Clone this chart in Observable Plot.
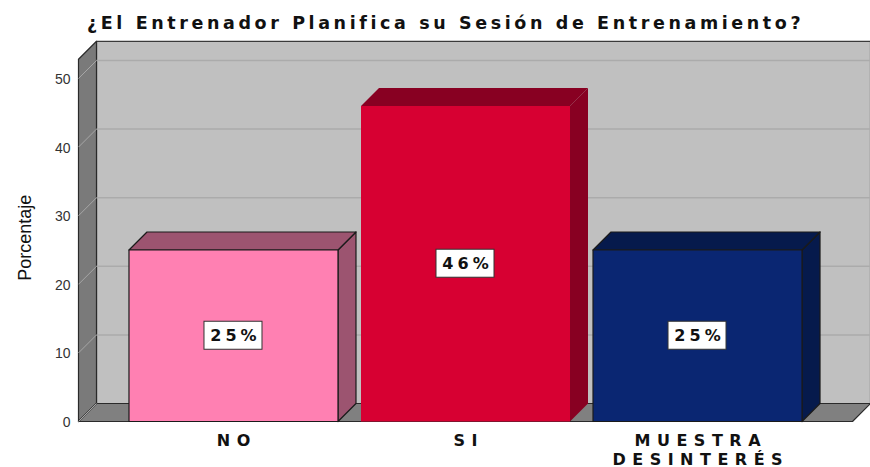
<!DOCTYPE html>
<html><head><meta charset="utf-8">
<script src="https://cdn.jsdelivr.net/npm/d3@7"></script>
<script src="https://cdn.jsdelivr.net/npm/@observablehq/plot@0.6"></script>
<style>
body{margin:0;background:#fff;width:870px;height:467px;overflow:hidden;position:relative;}
#titlebox{height:36px;position:relative;}
#title{position:absolute;left:87px;top:15px;font:bold 17.5px "DejaVu Sans",sans-serif;line-height:1;color:#111;white-space:nowrap;}
</style></head><body>
<div id="titlebox"><span id="title">¿El Entrenador Planifica su Sesión de Entrenamiento?</span></div>
<div id="chart"></div>
<script>
// ---- data ----
const categories = ["NO", "SI", "MUESTRA\nDESINTERÉS"];
const values = [25, 46, 25];
const valueLabels = ["25%", "46%", "25%"];
const yTicks = [0, 10, 20, 30, 40, 50];
const yTitle = "Porcentaje";

// ---- palette ----
const frontColors = ["#FF80B2", "#D70032", "#0A2672"];
const shadeColors = ["#9C5470", "#880022", "#061A4C"];
const edgeColors  = ["#1a1a1a", "none", "#1a1a1a"];

// ---- layout ----
const W = 870, H = 431, mL = 78, mR = 18, mT = 42, mB = 46;
const xDomain = [-0.668, 2.668], yDomain = [0, 50];
const pxX = (W - mL - mR) / (xDomain[1] - xDomain[0]);
const pxY = (H - mT - mB) / (yDomain[1] - yDomain[0]);
const depthPx = 18;
const dX = depthPx / pxX, dY = depthPx / pxY;
const wallTop = 52.8;
const hw = 104.5 / pxX;
const [xmin, xmax] = xDomain;
const P = (x, y, z) => ({x: x + z * dX, y: y + z * dY});

function poly(id, pts, fill, stroke) {
  return pts.map(p => ({id, x: p.x, y: p.y, fill, stroke}));
}

const walls = [
  ...poly("back", [P(xmin,0,1), P(xmax,0,1), P(xmax,wallTop,1), P(xmin,wallTop,1)], "#C0C0C0", "#3a3a3a"),
  ...poly("left", [P(xmin,0,0), P(xmin,wallTop,0), P(xmin,wallTop,1), P(xmin,0,1)], "#7a7a7a", "#2a2a2a"),
  ...poly("floor", [P(xmin,0,0), P(xmax,0,0), P(xmax,0,1), P(xmin,0,1)], "#808080", "#2a2a2a")
];

const backGrid = yTicks.filter(t => t > 0).map(t => ({x1: xmin + dX, x2: xmax + dX, y: t + dY}));
const sideGrid = yTicks.map(t => ({x1: xmin, y1: t, x2: xmin + dX, y2: t + dY}));

const bars = [];
values.forEach((v, i) => {
  const c = i;
  bars.push(...poly("side" + i, [P(c+hw,0,0), P(c+hw,v,0), P(c+hw,v,1), P(c+hw,0,1)], shadeColors[i], edgeColors[i]));
  bars.push(...poly("top" + i, [P(c-hw,v,0), P(c+hw,v,0), P(c+hw,v,1), P(c-hw,v,1)], shadeColors[i], edgeColors[i]));
  bars.push(...poly("front" + i, [P(c-hw,0,0), P(c+hw,0,0), P(c+hw,v,0), P(c-hw,v,0)], frontColors[i], edgeColors[i]));
});

const boxW = 58 / pxX / 2, boxH = 28 / pxY / 2;
const boxes = values.map((v, i) => ({x1: i - boxW, x2: i + boxW, y1: v/2 - boxH, y2: v/2 + boxH}));

const font = "'Liberation Sans', Arial, sans-serif";
const boldFont = "'DejaVu Sans', sans-serif";
const catSpacing = 6.5, pctSpacing = 4;

const chart = Plot.plot({
  width: W, height: H,
  marginLeft: mL, marginRight: mR, marginTop: mT, marginBottom: mB,
  x: {domain: xDomain, axis: null},
  y: {domain: yDomain, axis: null},
  color: {type: "identity"},
  style: {fontFamily: font, background: "white", overflow: "visible"},
  marks: [
    Plot.line(walls, {x: "x", y: "y", z: "id", fill: "fill", stroke: "stroke", strokeWidth: 1.2, curve: "linear-closed"}),
    Plot.link(backGrid, {x1: "x1", x2: "x2", y1: "y", y2: "y", stroke: "#ababab", strokeWidth: 1.5}),
    Plot.link(sideGrid, {x1: "x1", y1: "y1", x2: "x2", y2: "y2", stroke: "#a6a6a6", strokeWidth: 1}),
    Plot.line(bars, {x: "x", y: "y", z: "id", fill: "fill", stroke: "stroke", strokeWidth: 1.2, curve: "linear-closed"}),
    Plot.rect(boxes, {x1: "x1", x2: "x2", y1: "y1", y2: "y2", fill: "white", stroke: "#333", strokeWidth: 1}),
    Plot.text(valueLabels, {x: (d, i) => i, y: (d, i) => values[i] / 2, text: d => d, dx: pctSpacing / 2, fontSize: 16, fontFamily: boldFont, fontWeight: "bold", fill: "#111"}),
    Plot.text(yTicks, {x: xmin, y: d => d, text: d => String(d), textAnchor: "end", dx: -8, dy: 1, fontSize: 14, fill: "#333"}),
    Plot.text([yTitle], {x: xmin, y: 26.8, text: d => d, rotate: -90, dx: -53, fontSize: 18, fill: "#111"}),
    Plot.text(categories, {x: (d, i) => i, y: 0, text: d => d, lineAnchor: "top", dy: 11.5, dx: catSpacing / 2, lineHeight: 1.16, fontSize: 16, fontFamily: boldFont, fontWeight: "bold", fill: "#111"})
  ]
});
document.getElementById("chart").appendChild(chart);

// letter spacing for the bold labels
const catSet = new Set(categories.map(c => c.replace(/\n/g, "")));
const pctSet = new Set(valueLabels);
d3.select(chart).selectAll("text").each(function() {
  const t = this.textContent;
  if (catSet.has(t)) this.style.letterSpacing = catSpacing + "px";
  else if (pctSet.has(t)) this.style.letterSpacing = pctSpacing + "px";
});

// fit the title's tracking to its span in the reference
const title = document.getElementById("title");
const natural = title.getBoundingClientRect().width;
const n = Array.from(title.textContent).length;
const target = 713;
title.style.letterSpacing = ((target - natural) / (n - 1)) + "px";
</script>
</body></html>
